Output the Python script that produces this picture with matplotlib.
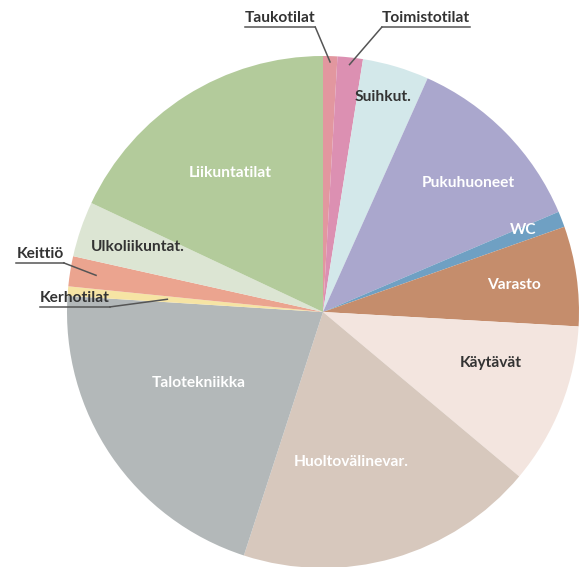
import matplotlib
matplotlib.use('Agg')
import matplotlib.pyplot as plt
import numpy as np

# shares of floor area, clockwise from the top
categories = ['Taukotilat', 'Toimistotilat', 'Suihkut.', 'Pukuhuoneet', 'WC', 'Varasto',
              'Käytävät', 'Huoltovälinevar.', 'Talotekniikka', 'Kerhotilat', 'Keittiö',
              'Ulkoliikuntat.', 'Liikuntatilat']
shares = [0.9, 1.6, 4.2, 11.9, 1.0, 6.3, 10.2, 18.9, 21.0, 0.6, 1.9, 3.5, 18.0]
colors = ['#e2979f', '#dc90b2', '#d3e8ea', '#aaa7cd', '#6fa0c3', '#c58d6c',
          '#f3e5df', '#d7c8bd', '#b3b8b9', '#f6e4a4', '#eba48f', '#dce5d3', '#b3cb9b']

# label layout (pie radius units)
inside = {
    'Liikuntatilat': ((-0.363, 0.543), 'white'),
    'Suihkut.': ((0.234, 0.84), '#333333'),
    'Pukuhuoneet': ((0.566, 0.504), 'white'),
    'WC': ((0.781, 0.32), 'white'),
    'Varasto': ((0.746, 0.105), 'white'),
    'Käytävät': ((0.656, -0.2), '#333333'),
    'Huoltovälinevar.': ((0.109, -0.586), 'white'),
    'Talotekniikka': ((-0.484, -0.277), 'white'),
    'Ulkoliikuntat.': ((-0.723, 0.254), '#333333'),
}
# name: (text pos, leader start side, leader target radius)
outside = {
    'Taukotilat': ((-0.168, 1.148), 'right', 0.977),
    'Toimistotilat': ((0.402, 1.148), 'left', 0.972),
    'Keittiö': ((-1.105, 0.227), 'right', 0.898),
    'Kerhotilat': ((-0.969, 0.055), 'right', 0.61),
}

CX, CY, R = 323, 312, 256
W, H = 587, 567

fig = plt.figure(figsize=(W / 100, H / 100), dpi=100)
ax = fig.add_axes([0, 0, 1, 1])
wedges, _ = ax.pie(shares, colors=colors, startangle=90, counterclock=False,
                   radius=1.0, wedgeprops=dict(linewidth=0))
ax.set_xlim(-CX / R, (W - CX) / R)
ax.set_ylim((CY - H) / R, CY / R)
ax.axis('off')

font = dict(family=['Lato', 'DejaVu Sans'], weight='bold', fontsize=11.2)

for name, (pos, col) in inside.items():
    ax.text(pos[0], pos[1], name, color=col, ha='center', va='center', **font)

fig.canvas.draw()
renderer = fig.canvas.get_renderer()
inv = ax.transData.inverted()
for name, (pos, side, rfrac) in outside.items():
    t = ax.text(pos[0], pos[1], name, color='#333333', ha='center', va='center', **font)
    bb = t.get_window_extent(renderer)
    (x0, y0), (x1, _) = inv.transform([(bb.x0, bb.y0 - 2), (bb.x1, bb.y0 - 2)])
    ax.plot([x0, x1], [y0, y0], color='#555555', lw=1.1)
    w = wedges[categories.index(name)]
    mid = np.deg2rad((w.theta1 + w.theta2) / 2)
    tx, ty = rfrac * np.cos(mid), rfrac * np.sin(mid)
    sx = x1 if side == 'right' else x0
    ax.plot([sx, tx], [y0, ty], color='#555555', lw=1.1)

fig.savefig('out.png', dpi=100)
